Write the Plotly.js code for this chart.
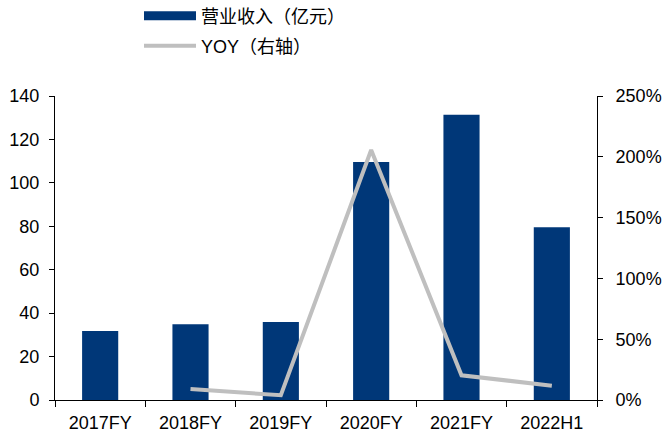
<!DOCTYPE html>
<html>
<head>
<meta charset="utf-8">
<script src="https://cdn.plot.ly/plotly-3.0.1.min.js"></script>
<style>html,body{margin:0;padding:0;background:#fff;}#chart{width:662px;height:434px;}</style>
</head>
<body>
<div id="chart"></div>
<script>
const categories = ["2017FY", "2018FY", "2019FY", "2020FY", "2021FY", "2022H1"];
const revenue = [31.8, 34.9, 35.9, 109.6, 131.4, 79.5];
const yoy = [null, 0.09, 0.039, 2.056, 0.203, 0.118];
const leftTicks = [0, 20, 40, 60, 80, 100, 120, 140];
const rightTicks = [0, 0.5, 1, 1.5, 2, 2.5];
const rightTickLabels = ["0%", "50%", "100%", "150%", "200%", "250%"];

const navy = "#003778";
const gray = "#BFBFBF";
const font = {family: "Liberation Sans, Arial, sans-serif", size: 18, color: "#000"};
const legendFont = {family: "Liberation Sans, Noto Sans CJK SC, sans-serif", size: 18, color: "#000"};

const data = [
  {type: "bar", x: categories, y: revenue, marker: {color: navy}, width: 0.4,
   showlegend: false, hoverinfo: "skip"},
  {type: "scatter", mode: "lines", x: categories, y: yoy, yaxis: "y2",
   line: {color: gray, width: 4}, name: "YOY（右轴）", legend: "legend2",
   connectgaps: false},
  {type: "scatter", mode: "lines", x: [null], y: [null], name: "营业收入（亿元）",
   line: {color: navy, width: 9}, legend: "legend"}
];

const L = 55, R = 65, T = 96, B = 34, W = 662, H = 434;
const plotW = W - L - R, plotH = H - T - B;
function px2paperX(px) { return (px - L) / plotW; }
function px2paperY(py) { return (H - B - py) / plotH; }

const layout = {
  width: W, height: H,
  margin: {l: L, r: R, t: T, b: B, autoexpand: false},
  paper_bgcolor: "#fff", plot_bgcolor: "#fff",
  font: font,
  xaxis: {
    type: "category", showline: true, linecolor: "#000", linewidth: 1,
    ticks: "outside", ticklen: 6, tickcolor: "#000", tickson: "boundaries",
    showgrid: false, zeroline: false, tickfont: font, fixedrange: true,
    ticklabelstandoff: 6
  },
  yaxis: {
    range: [0, 140], tickvals: leftTicks, showline: true, linecolor: "#000",
    ticks: "outside", ticklen: 5, tickcolor: "#000", showgrid: false,
    zeroline: false, tickfont: font, ticklabelstandoff: 6
  },
  yaxis2: {
    overlaying: "y", side: "right", range: [0, 2.5], tickvals: rightTicks,
    ticktext: rightTickLabels, showline: true, linecolor: "#000",
    ticks: "outside", ticklen: 5, tickcolor: "#000", showgrid: false,
    zeroline: false, tickfont: font, ticklabelstandoff: 9
  },
  legend: {x: px2paperX(139), y: px2paperY(16), xanchor: "left", yanchor: "middle",
    font: legendFont, itemwidth: 52, bgcolor: "rgba(0,0,0,0)"},
  legend2: {x: px2paperX(139), y: px2paperY(46), xanchor: "left", yanchor: "middle",
    font: legendFont, itemwidth: 52, bgcolor: "rgba(0,0,0,0)"}
};

Plotly.newPlot("chart", data, layout, {staticPlot: true, displayModeBar: false});
</script>
</body>
</html>
